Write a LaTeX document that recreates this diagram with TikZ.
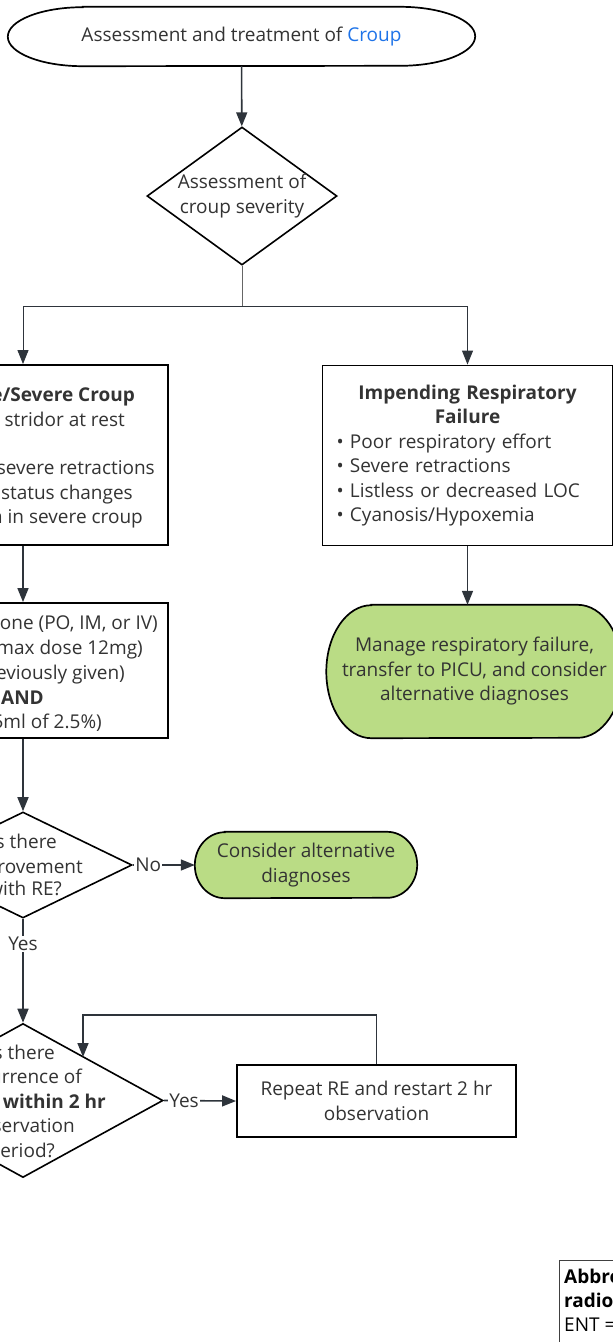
\documentclass[tikz,border=0pt]{standalone}
\usepackage{fontspec}
\setmainfont{Open Sans}
\usetikzlibrary{arrows.meta,shapes.geometric,calc,backgrounds}
\definecolor{inkc}{HTML}{333333}
\definecolor{linec}{HTML}{2E343B}
\definecolor{greenc}{RGB}{186,220,133}
\definecolor{croupblue}{RGB}{30,115,232}
\tikzset{
  txt/.style={font=\fontsize{19}{24.5}\selectfont,text=inkc},
  frag/.style={txt,anchor=base east,inner sep=0pt},
  bfrag/.style={frag,font=\fontsize{19}{24.5}\selectfont\bfseries},
  cbox/.style={draw=black,line width=1.9pt,fill=white,inner sep=0pt},
  dia/.style={diamond,draw=black,line width=1.6pt,fill=white,inner sep=0pt},
  term/.style={draw=black,line width=1.7pt},
  arr/.style={draw=linec,line width=1.6pt,-{Triangle[length=14pt,width=11pt]}},
  branch/.style={draw=black!60,line width=1pt},
  arrb/.style={branch,draw=linec,-{Triangle[length=14pt,width=11pt]}},
  lab/.style={txt,fill=white,inner sep=1pt},
}
\begin{document}
\begin{tikzpicture}[x=1pt,y=-1pt]
  \useasboundingbox (0,0) rectangle (613,1342);
  \clip (0,0) rectangle (613,1342);
  % start and first decision
  \node[txt,minimum width=467pt,minimum height=59pt,inner sep=0pt] (start) at (241.5,36.5)
    {Assessment and treatment of \textcolor{croupblue}{Croup}};
  \draw[term] ($(start.north west)+(75,0)$) -- ($(start.north east)+(-75,0)$)
    arc[start angle=-90,end angle=90,x radius=75,y radius=29.5]
    -- ($(start.south west)+(75,0)$)
    arc[start angle=90,end angle=270,x radius=75,y radius=29.5] -- cycle;
  \node[dia,txt,aspect=1.377,inner sep=-5pt,minimum width=190pt,minimum height=138pt,align=center] (sev) at (242,196)
    {Assessment of\\croup severity};
  \coordinate (split) at (242,306);

  % left column
  \node[cbox,minimum width=290pt,minimum height=180pt] (modbox) at (23,455) {};
  \node[bfrag] (m1) at (135,401) {e/Severe Croup};
  \node[frag] (m2) at (125,426) {stridor at rest};
  \node[frag] (m3) at (155,474) {severe retractions};
  \node[frag] (m4) at (133,499) {status changes};
  \node[frag] (m5) at (143,523) {a in severe croup};

  \node[cbox,minimum width=290pt,minimum height=135pt] (dexbox) at (23,670.5) {};
  \node[frag] (d1) at (158,629) {one (PO, IM, or IV)};
  \node[frag] (d2) at (143,654) {max dose 12mg)};
  \node[frag] (d3) at (125,679) {eviously given)};
  \node[bfrag] (d4) at (44,704) {AND};
  \node[frag] (d5) at (102,728) {5ml of 2.5\%)};

  \node[dia,minimum width=218pt,minimum height=106pt] (impq) at (23,865) {};
  \node[frag] (i1) at (57,848) {s there};
  \node[frag] (i2) at (83,873) {rovement};
  \node[frag] (i3) at (62,895) {with RE?};

  \node[dia,minimum width=280pt,minimum height=154pt] (recq) at (23,1100.5) {};
  \node[frag] (r1) at (55,1059) {s there};
  \node[frag] (r2) at (82,1083) {urrence of};
  \node[bfrag] (r3) at (106,1108) {within 2 hr};
  \node[frag] (r4) at (75,1132) {servation};
  \node[frag] (r5) at (55,1157) {period?};
  \coordinate (loopin) at (83,1057);

  % right column
  \node[cbox,txt,text width=262pt,inner xsep=14pt,minimum height=180pt,align=left] (ipf) at (467.5,455.5)
    {{\centering\bfseries Impending Respiratory\\Failure\par}%
     • Poor respiratory effort\\• Severe retractions\\• Listless or decreased LOC\\• Cyanosis/Hypoxemia};
  \node[txt,align=center,minimum width=296pt,minimum height=133pt,inner sep=0pt] (picu) at (474.5,671.5)
    {Manage respiratory failure,\\transfer to PICU, and consider\\alternative diagnoses};
  \node[txt,align=center,minimum width=222pt,minimum height=66pt,inner sep=0pt] (altdx) at (306,865)
    {Consider alternative\\diagnoses};
  \node[cbox,txt,align=center,minimum width=279pt,minimum height=72pt] (redo) at (376.5,1101)
    {Repeat RE and restart 2 hr\\observation};

  % abbreviations
  \node[draw=black!75,line width=1.2pt,anchor=north west,minimum width=120pt,minimum height=120pt] (abbr) at (559,1260) {};
  \node[txt,text=black,font=\fontsize{19}{24.5}\selectfont\bfseries,anchor=base west,inner sep=0pt] (a1) at (564,1283) {Abbre};
  \node[txt,text=black,font=\fontsize{19}{24.5}\selectfont\bfseries,anchor=base west,inner sep=0pt] (a2) at (564,1307) {radio};
  \node[txt,text=black,anchor=base west,inner sep=0pt] (a3) at (564,1331) {ENT =};

  \begin{scope}[on background layer]
    \draw[term,fill=greenc] ($(picu.north west)+(45,0)$) -- ($(picu.north east)+(-45,0)$)
      arc[start angle=-90,end angle=90,x radius=45,y radius=66.5]
      -- ($(picu.south west)+(45,0)$)
      arc[start angle=90,end angle=270,x radius=45,y radius=66.5] -- cycle;
    \draw[term,fill=greenc] ($(altdx.north west)+(30,0)$) -- ($(altdx.north east)+(-30,0)$)
      arc[start angle=-90,end angle=90,x radius=30,y radius=33]
      -- ($(altdx.south west)+(30,0)$)
      arc[start angle=90,end angle=270,x radius=30,y radius=33] -- cycle;
  \end{scope}

  % connectors
  \draw[arr] (start) -- (sev);
  \draw[branch] (sev.south) -- (split);
  \draw[arrb] (split) -| (modbox.north);
  \draw[arrb] (split) -| (ipf.north);
  \draw[arr] (modbox) -- (dexbox);
  \draw[arr] (ipf.south) -- (ipf.south |- picu.north);
  \draw[arr] (dexbox) -- (impq);
  \draw[arr] (impq.east) -- node[lab,pos=0.25] {No} (altdx.west);
  \draw[arr] (impq.south) -- node[lab,pos=0.24] {Yes} (recq.north);
  \draw[arr] (recq.east) -- node[lab,pos=0.28] {Yes} (redo.west);
  \draw[arr] (redo.north) -- ++(0,-49) -| (loopin);
\end{tikzpicture}
\end{document}
